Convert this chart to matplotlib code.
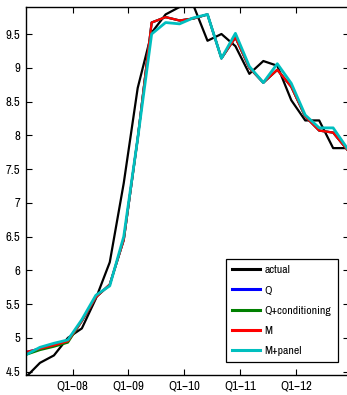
import numpy as np
import matplotlib
matplotlib.use('Agg')
import matplotlib.pyplot as plt

# quarterly data 2007Q1 - 2012Q4 (plotted at quarter-end month)
quarters = [f'Q{q}-{y:02d}' for y in range(7, 13) for q in range(1, 5)]
actual = [4.42, 4.63, 4.74, 5.00, 5.14, 5.58, 6.12, 7.29, 8.70, 9.52, 9.79, 9.90,
          9.92, 9.40, 9.50, 9.32, 8.91, 9.10, 9.03, 8.52, 8.22, 8.22, 7.81, 7.81]
q_model = [4.79, 4.84, 4.89, 4.95, 5.25, 5.60, 5.79, 6.45, 7.95, 9.67, 9.75, 9.70,
           9.73, 9.79, 9.14, 9.45, 9.00, 8.78, 8.97, 8.72, 8.28, 8.07, 8.04, 7.79]
q_cond = [4.75, 4.82, 4.87, 4.93, 5.25, 5.60, 5.79, 6.45, 7.95, 9.67, 9.75, 9.70,
          9.73, 9.79, 9.14, 9.45, 9.00, 8.78, 8.97, 8.72, 8.28, 8.07, 8.04, 7.79]
m_model = [4.79, 4.84, 4.89, 4.95, 5.25, 5.60, 5.79, 6.45, 7.95, 9.67, 9.75, 9.70,
           9.73, 9.79, 9.14, 9.45, 9.00, 8.78, 8.97, 8.72, 8.28, 8.07, 8.04, 7.79]
m_panel = [4.75, 4.86, 4.92, 4.97, 5.27, 5.63, 5.77, 6.50, 7.95, 9.50, 9.67, 9.65,
           9.74, 9.79, 9.14, 9.51, 9.02, 8.78, 9.06, 8.77, 8.30, 8.11, 8.11, 7.81]
tick_labels = ['Q1\u221208', 'Q1\u221209', 'Q1\u221210', 'Q1\u221211', 'Q1\u221212']
ytick_vals = [4.5, 5, 5.5, 6, 6.5, 7, 7.5, 8, 8.5, 9, 9.5]

plt.rcParams['font.family'] = ['Archivo Narrow', 'Liberation Sans', 'DejaVu Sans']

x = np.arange(len(quarters))
fig = plt.figure(figsize=(3.47, 3.95), dpi=100)
ax = fig.add_axes([26 / 347, 1 - 375 / 395, 322.5 / 347, 368 / 395])

ax.plot(x, actual, color='black', lw=1.6, label='actual')
ax.plot(x, q_model, color='#0000FF', lw=1.6, label='Q')
ax.plot(x, q_cond, color='#008000', lw=1.6, label='Q+conditioning')
ax.plot(x, m_model, color='#FF0000', lw=1.6, label='M')
ax.plot(x, m_panel, color='#00BFBF', lw=2.0, label='M+panel')

ax.set_xlim(0, 23.1)
ax.set_ylim(4.45, 9.9)
ax.set_xticks(10 / 3 + 4 * np.arange(len(tick_labels)))
ax.set_xticklabels(tick_labels)
ax.set_yticks(ytick_vals)
ax.set_yticklabels([f'{v:g}' for v in ytick_vals])
ax.tick_params(direction='in', length=4, width=0.8, top=True, right=True,
               labelsize=9.2, pad=4)
for s in ax.spines.values():
    s.set_linewidth(1.0)

leg = ax.legend(loc='lower right', bbox_to_anchor=(0.984, 0.019), fontsize=8.4,
                handlelength=2.4, handletextpad=0.35, labelspacing=0.85,
                borderpad=0.55, fancybox=False, framealpha=1, edgecolor='black')
leg.get_frame().set_linewidth(0.9)
for line in leg.get_lines():
    line.set_linewidth(2.2)

fig.savefig('out.png', dpi=100)
